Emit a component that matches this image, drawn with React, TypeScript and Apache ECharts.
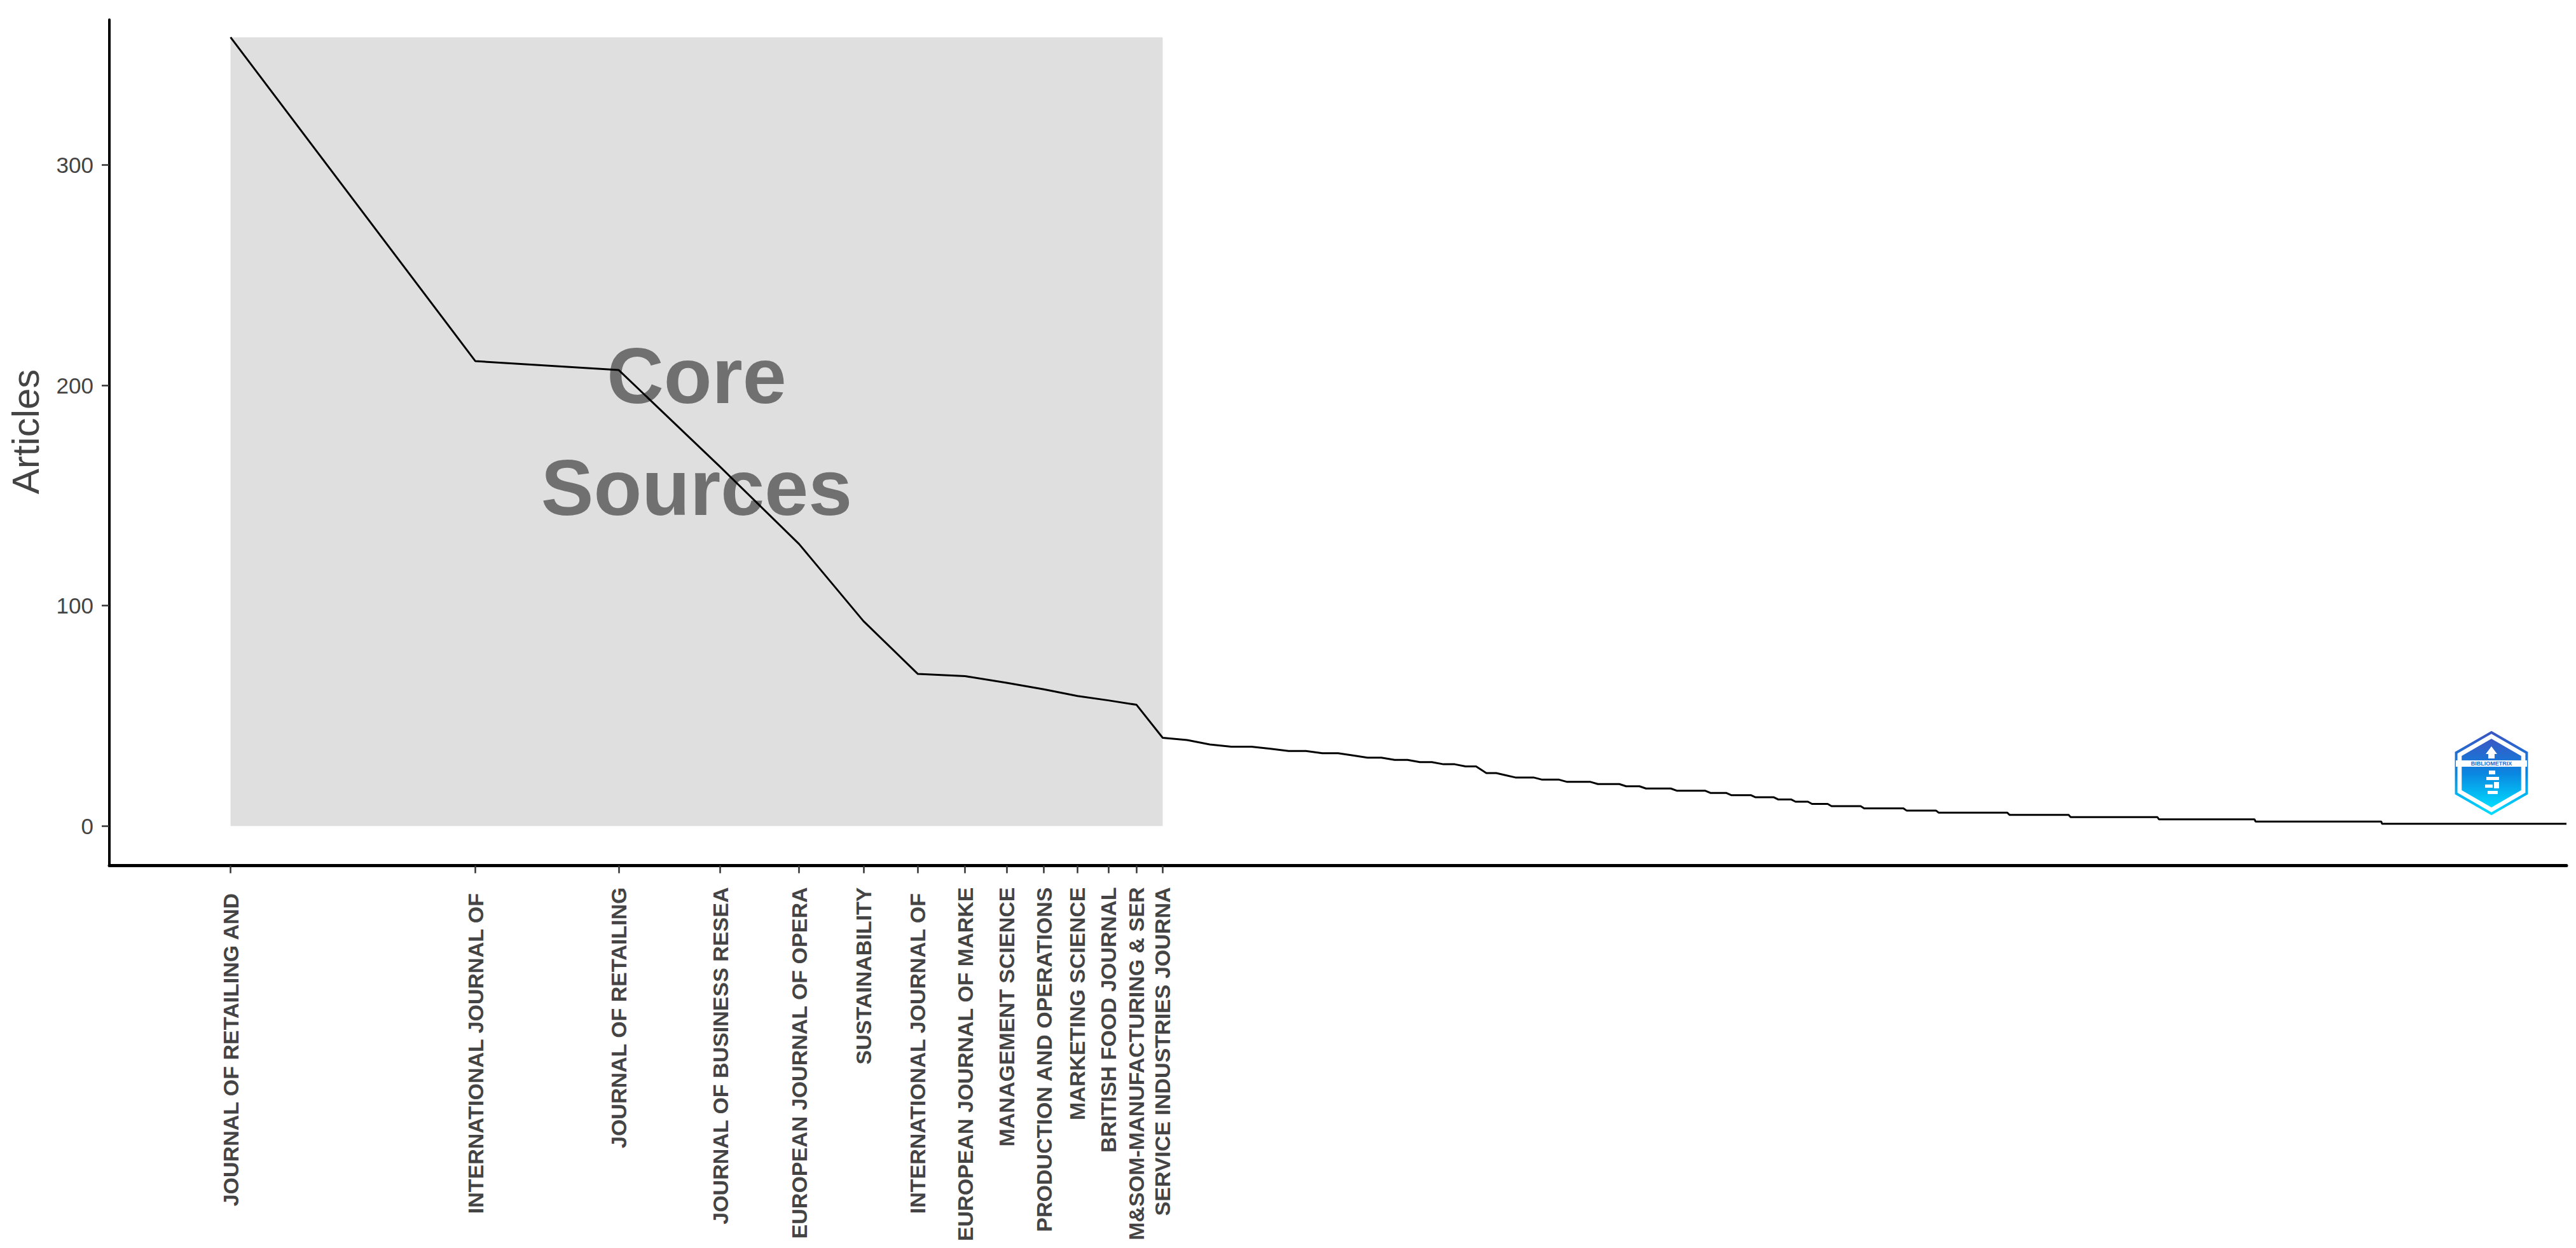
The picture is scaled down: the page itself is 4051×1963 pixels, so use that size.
import React, { useEffect, useRef } from "react";
import * as echarts from "echarts";

// Core sources (first 14 ranks), names truncated to 25 chars as in the source
const coreSources = [
  "JOURNAL OF RETAILING AND ",
  "INTERNATIONAL JOURNAL OF ",
  "JOURNAL OF RETAILING",
  "JOURNAL OF BUSINESS RESEA",
  "EUROPEAN JOURNAL OF OPERA",
  "SUSTAINABILITY",
  "INTERNATIONAL JOURNAL OF ",
  "EUROPEAN JOURNAL OF MARKE",
  "MANAGEMENT SCIENCE",
  "PRODUCTION AND OPERATIONS",
  "MARKETING SCIENCE",
  "BRITISH FOOD JOURNAL",
  "M&SOM-MANUFACTURING & SER",
  "SERVICE INDUSTRIES JOURNA",
];
const coreArticles = [358, 211, 207, 163, 128, 93, 69, 68, 65, 62, 59, 57, 55, 40];

// Remaining sources: article count and how many sources share it
const tailArticles = [39, 37, 36, 35, 34, 33, 32, 31, 30, 29, 28, 27, 24, 23, 22, 21, 20, 19, 18, 17, 16, 15, 14, 13, 12, 11, 10, 9, 8, 7, 6, 5, 4, 3, 2, 1];
const tailSourceCounts = [1, 1, 2, 1, 2, 2, 1, 2, 2, 2, 2, 2, 2, 1, 3, 3, 4, 4, 3, 5, 6, 4, 5, 5, 4, 4, 5, 9, 13, 11, 28, 29, 52, 74, 133, 304];

const yTicks = [0, 100, 200, 300];
const yTitle = "Articles";
const coreLabel = "Core\nSources";

const FONT = "'Liberation Sans', Arial, Helvetica, sans-serif";

function buildArticles(): number[] {
  const out = [...coreArticles];
  tailArticles.forEach((v, i) => {
    for (let k = 0; k < tailSourceCounts[i]; k++) out.push(v);
  });
  return out;
}

function hex(r: number): number[][] {
  const pts: number[][] = [];
  for (let i = 0; i < 6; i++) {
    const a = ((-90 + 60 * i) * Math.PI) / 180;
    pts.push([r * Math.cos(a), r * Math.sin(a)]);
  }
  return pts;
}

export default function App() {
  const ref = useRef<HTMLDivElement>(null);
  useEffect(() => {
    document.body.style.margin = "0";
    const chart = echarts.init(ref.current!, null, { renderer: "svg" });
    const articles = buildArticles();
    const lineData = articles.map((v, i) => [Math.log10(i + 1), v]);
    const coreTickValues = coreSources.map((_, i) => Math.log10(i + 1));
    const maxArt = Math.max(...coreArticles);
    const coreEnd = Math.log10(coreArticles.length);

    const grad = {
      type: "linear",
      x: 0,
      y: 0,
      x2: 0,
      y2: 1,
      colorStops: [
        { offset: 0, color: "#3a56c4" },
        { offset: 0.5, color: "#0a86e0" },
        { offset: 1, color: "#00dcff" },
      ],
    };

    const option: any = {
      animation: false,
      backgroundColor: "#ffffff",
      textStyle: { fontFamily: FONT },
      grid: {
        left: 172,
        right: 15,
        top: 31,
        bottom: 601.5,
        containLabel: false,
        outerBoundsMode: "none",
      },
      xAxis: {
        type: "value",
        min: -0.149,
        max: Math.log10(articles.length),
        axisLine: { show: true, onZero: false, lineStyle: { color: "#000000", width: 5 } },
        axisTick: {
          show: true,
          customValues: coreTickValues,
          length: 12,
          lineStyle: { color: "#333333", width: 2.5 },
        },
        axisLabel: {
          show: true,
          customValues: coreTickValues,
          rotate: 90,
          margin: 34,
          fontSize: 34,
          fontWeight: "bold",
          color: "#444444",
          fontFamily: FONT,
          formatter: (v: number) => coreSources[Math.round(Math.pow(10, v)) - 1] ?? "",
        },
        splitLine: { show: false },
      },
      yAxis: {
        type: "value",
        min: -18,
        max: 366,
        axisLine: { show: true, onZero: false, lineStyle: { color: "#000000", width: 4 } },
        axisTick: {
          show: true,
          customValues: yTicks,
          length: 12,
          lineStyle: { color: "#333333", width: 2.5 },
        },
        axisLabel: {
          show: true,
          customValues: yTicks,
          margin: 25,
          fontSize: 35,
          color: "#444444",
          fontFamily: FONT,
        },
        splitLine: { show: false },
      },
      series: [
        {
          type: "scatter",
          z: 2,
          silent: true,
          symbolSize: 1,
          itemStyle: { color: "#dfdfdf", opacity: 1 },
          data: [[coreEnd / 2, maxArt / 2]],
          label: {
            show: true,
            position: "inside",
            formatter: coreLabel,
            fontSize: 124,
            lineHeight: 176,
            fontWeight: "bold",
            color: "#707070",
            opacity: 1,
            fontFamily: FONT,
            align: "center",
            verticalAlign: "middle",
          },
          markArea: {
            silent: true,
            z: 1,
            itemStyle: { color: "#dfdfdf", opacity: 1 },
            data: [[{ coord: [0, 0] }, { coord: [coreEnd, maxArt] }]],
          },
        },
        {
          type: "line",
          z: 3,
          silent: true,
          data: lineData,
          showSymbol: false,
          symbol: "none",
          lineStyle: { color: "#000000", width: 3 },
          clip: true,
        },
      ],
      graphic: [
        {
          type: "text",
          x: 40,
          y: 679,
          rotation: Math.PI / 2,
          style: {
            text: yTitle,
            fontSize: 60,
            fontFamily: FONT,
            fill: "#444444",
            align: "center",
            verticalAlign: "middle",
          },
        },
        {
          type: "group",
          x: 3918,
          y: 1216,
          children: [
            { type: "polygon", shape: { points: hex(64) }, style: { fill: "#ffffff", stroke: grad, lineWidth: 4 } },
            { type: "polygon", shape: { points: hex(54) }, style: { fill: grad } },
            { type: "rect", shape: { x: -56, y: -20, width: 112, height: 10 }, style: { fill: "#ffffff" } },
            {
              type: "text",
              style: {
                text: "BIBLIOMETRIX",
                x: 0,
                y: -15,
                fontSize: 9,
                fontWeight: "bold",
                fontFamily: FONT,
                fill: "#1570d4",
                align: "center",
                verticalAlign: "middle",
              },
            },
            {
              type: "polygon",
              shape: { points: [[0, -42], [9, -30], [5, -30], [5, -23], [-5, -23], [-5, -30], [-9, -30]] },
              style: { fill: "#ffffff" },
            },
            { type: "rect", shape: { x: -4, y: -4, width: 10, height: 6 }, style: { fill: "#ffffff" } },
            { type: "rect", shape: { x: -8, y: 6, width: 20, height: 5 }, style: { fill: "#ffffff" } },
            { type: "rect", shape: { x: 4, y: 14, width: 8, height: 10 }, style: { fill: "#ffffff" } },
            { type: "rect", shape: { x: -10, y: 18, width: 12, height: 5 }, style: { fill: "#ffffff" } },
            { type: "rect", shape: { x: -6, y: 28, width: 16, height: 5 }, style: { fill: "#ffffff" } },
          ],
        },
      ],
    };
    chart.setOption(option);
    return () => chart.dispose();
  }, []);
  return <div ref={ref} style={{ width: 4051, height: 1963 }} />;
}
